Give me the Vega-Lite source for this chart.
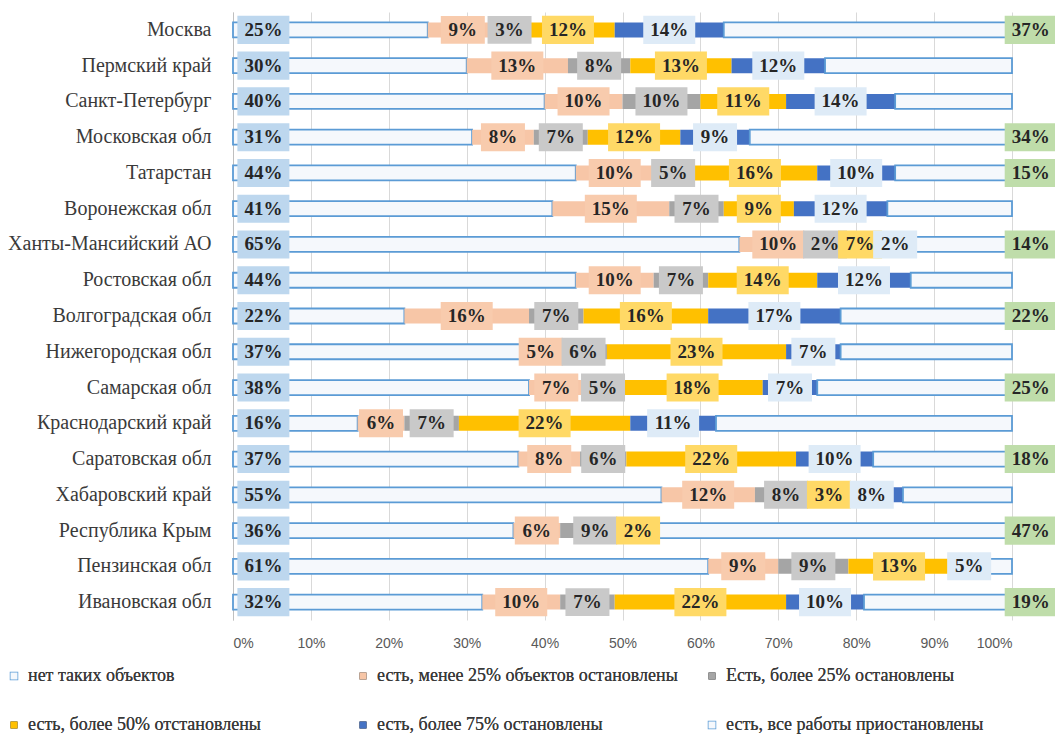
{
  "$schema": "https://vega.github.io/schema/vega-lite/v6.json",
  "width": 779,
  "height": 608,
  "autosize": {"type": "none"},
  "padding": {"left": 233, "top": 12, "right": 43, "bottom": 117},
  "background": "white",
  "config": {"view": {"stroke": null}, "font": "Times New Roman, Liberation Serif, DejaVu Serif, serif", "legend": {"padding": 0}},
  "data": {
    "values": [
      {"r": "Москва", "s1": 25, "s2": 9, "s3": 3, "s4": 12, "s5": 14, "s6": 37},
      {"r": "Пермский край", "s1": 30, "s2": 13, "s3": 8, "s4": 13, "s5": 12, "s6": 24},
      {"r": "Санкт-Петербург", "s1": 40, "s2": 10, "s3": 10, "s4": 11, "s5": 14, "s6": 15},
      {"r": "Московская обл", "s1": 31, "s2": 8, "s3": 7, "s4": 12, "s5": 9, "s6": 34},
      {"r": "Татарстан", "s1": 44, "s2": 10, "s3": 5, "s4": 16, "s5": 10, "s6": 15},
      {"r": "Воронежская обл", "s1": 41, "s2": 15, "s3": 7, "s4": 9, "s5": 12, "s6": 16},
      {"r": "Ханты-Мансийский АО", "s1": 65, "s2": 10, "s3": 2, "s4": 7, "s5": 2, "s6": 14},
      {"r": "Ростовская обл", "s1": 44, "s2": 10, "s3": 7, "s4": 14, "s5": 12, "s6": 13},
      {"r": "Волгоградская обл", "s1": 22, "s2": 16, "s3": 7, "s4": 16, "s5": 17, "s6": 22},
      {"r": "Нижегородская обл", "s1": 37, "s2": 5, "s3": 6, "s4": 23, "s5": 7, "s6": 22},
      {"r": "Самарская обл", "s1": 38, "s2": 7, "s3": 5, "s4": 18, "s5": 7, "s6": 25},
      {"r": "Краснодарский край", "s1": 16, "s2": 6, "s3": 7, "s4": 22, "s5": 11, "s6": 38},
      {"r": "Саратовская обл", "s1": 37, "s2": 8, "s3": 6, "s4": 22, "s5": 10, "s6": 18},
      {"r": "Хабаровский край", "s1": 55, "s2": 12, "s3": 8, "s4": 3, "s5": 8, "s6": 14},
      {"r": "Республика Крым", "s1": 36, "s2": 6, "s3": 9, "s4": 2, "s5": 0, "s6": 47},
      {"r": "Пензинская обл", "s1": 61, "s2": 9, "s3": 9, "s4": 13, "s5": 5, "s6": 3},
      {"r": "Ивановская обл", "s1": 32, "s2": 10, "s3": 7, "s4": 22, "s5": 10, "s6": 19}
    ]
  },
  "transform": [
    {"fold": ["s1", "s2", "s3", "s4", "s5", "s6"], "as": ["key", "v"]},
    {"stack": "v", "groupby": ["r"], "sort": [{"field": "key", "order": "ascending"}], "offset": "normalize", "as": ["x0", "x1"]},
    {"calculate": "datum.key == 's1' ? 0.039 : datum.key == 's6' ? 1.024 : (datum.x0 + datum.x1) / 2", "as": "lx"},
    {"calculate": "datum.v + '%'", "as": "lab"}
  ],
  "encoding": {
    "y": {
      "field": "r",
      "type": "nominal",
      "sort": ["Москва", "Пермский край", "Санкт-Петербург", "Московская обл", "Татарстан", "Воронежская обл", "Ханты-Мансийский АО", "Ростовская обл", "Волгоградская обл", "Нижегородская обл", "Самарская обл", "Краснодарский край", "Саратовская обл", "Хабаровский край", "Республика Крым", "Пензинская обл", "Ивановская обл"],
      "scale": {"paddingInner": 0, "paddingOuter": 0},
      "axis": {"title": null, "labelFont": "Times New Roman, Liberation Serif, DejaVu Serif, serif", "labelFontSize": 20, "labelColor": "#3a3a3a", "labelLimit": 300, "ticks": false, "labelPadding": 22, "domainColor": "#BFBFBF", "domainWidth": 1}
    }
  },
  "layer": [
    {
      "mark": {"type": "bar", "size": 15, "strokeWidth": 1.8},
      "encoding": {
        "x": {
          "field": "x0", "type": "quantitative",
          "scale": {"domain": [0, 1], "nice": false},
          "axis": {"title": null, "values": [0, 0.1, 0.2, 0.3, 0.4, 0.5, 0.6, 0.7, 0.8, 0.9, 1], "format": ".0%", "grid": true, "gridColor": "#D9D9D9", "domain": false, "ticks": false, "labelFont": "Liberation Sans, Arial, sans-serif", "labelFontSize": 14, "labelColor": "#595959", "labelPadding": 16}
        },
        "x2": {"field": "x1"},
        "fill": {
          "field": "key", "type": "nominal",
          "scale": {"domain": ["s1", "s2", "s3", "s4", "s5", "s6"], "range": ["#F5F8FC", "#F7C6A7", "#A5A5A5", "#FFC000", "#4472C4", "#F5F8FC"]},
          "legend": {"title": null, "orient": "none", "direction": "horizontal", "legendX": -228, "legendY": 655, "columns": 3, "gridAlign": "all", "columnPadding": 25, "rowPadding": 31, "symbolType": "square", "symbolSize": 49, "symbolStrokeWidth": 1.5, "labelOffset": 5, "labelFont": "Times New Roman, Liberation Serif, DejaVu Serif, serif", "labelFontSize": 18, "labelColor": "#3a3a3a", "labelLimit": 500,
            "labelExpr": "datum.label == 's1' ? 'нет таких объектов' : datum.label == 's2' ? 'есть, менее 25% объектов остановлены' : datum.label == 's3' ? 'Есть, более 25% остановлены' : datum.label == 's4' ? 'есть, более 50% отстановлены' : datum.label == 's5' ? 'есть, более 75% остановлены' : 'есть, все работы приостановлены'"}
        },
        "stroke": {
          "field": "key", "type": "nominal",
          "scale": {"domain": ["s1", "s2", "s3", "s4", "s5", "s6"], "range": ["#5B9BD5", "transparent", "transparent", "transparent", "transparent", "#5B9BD5"]},
          "legend": {"title": null, "orient": "none", "direction": "horizontal", "legendX": -228, "legendY": 655, "columns": 3, "gridAlign": "all", "columnPadding": 25, "rowPadding": 31, "symbolType": "square", "symbolSize": 49, "symbolStrokeWidth": 1.5, "labelOffset": 5, "labelFont": "Times New Roman, Liberation Serif, DejaVu Serif, serif", "labelFontSize": 18, "labelColor": "#3a3a3a", "labelLimit": 500,
            "labelExpr": "datum.label == 's1' ? 'нет таких объектов' : datum.label == 's2' ? 'есть, менее 25% объектов остановлены' : datum.label == 's3' ? 'Есть, более 25% остановлены' : datum.label == 's4' ? 'есть, более 50% отстановлены' : datum.label == 's5' ? 'есть, более 75% остановлены' : 'есть, все работы приостановлены'"}
        }
      }
    },
    {
      "transform": [{"filter": "datum.v > 0 && (datum.key != 's6' || indexof(['Москва', 'Московская обл', 'Татарстан', 'Ханты-Мансийский АО', 'Волгоградская обл', 'Самарская обл', 'Саратовская обл', 'Республика Крым', 'Ивановская обл'], datum.r) >= 0)"}],
      "mark": {"type": "point", "filled": true, "opacity": 1, "strokeWidth": 0},
      "encoding": {
        "x": {"field": "lx", "type": "quantitative"},
        "fill": {
          "field": "key", "type": "nominal",
          "scale": {"domain": ["s1", "s2", "s3", "s4", "s5", "s6"], "range": ["#BDD7EE", "#F8CBAD", "#C9C9C9", "#FFD966", "#DEEBF7", "#BFDDAA"]},
          "legend": null
        },
        "shape": {"condition": {"test": "datum.v < 10", "value": "M-1,-0.636L1,-0.636L1,0.636L-1,0.636Z"}, "value": "M-1,-0.54L1,-0.54L1,0.54L-1,0.54Z"},
        "size": {"condition": {"test": "datum.v < 10", "value": 1936}, "value": 2704}
      }
    },
    {
      "transform": [{"filter": "datum.v > 0 && (datum.key != 's6' || indexof(['Москва', 'Московская обл', 'Татарстан', 'Ханты-Мансийский АО', 'Волгоградская обл', 'Самарская обл', 'Саратовская обл', 'Республика Крым', 'Ивановская обл'], datum.r) >= 0)"}],
      "mark": {"type": "text", "font": "Times New Roman, Liberation Serif, DejaVu Serif, serif", "fontWeight": "bold", "fontSize": 19, "color": "#262626"},
      "encoding": {
        "x": {"field": "lx", "type": "quantitative"},
        "text": {"field": "lab", "type": "nominal"}
      }
    }
  ],
  "resolve": {"scale": {"fill": "independent"}}
}
